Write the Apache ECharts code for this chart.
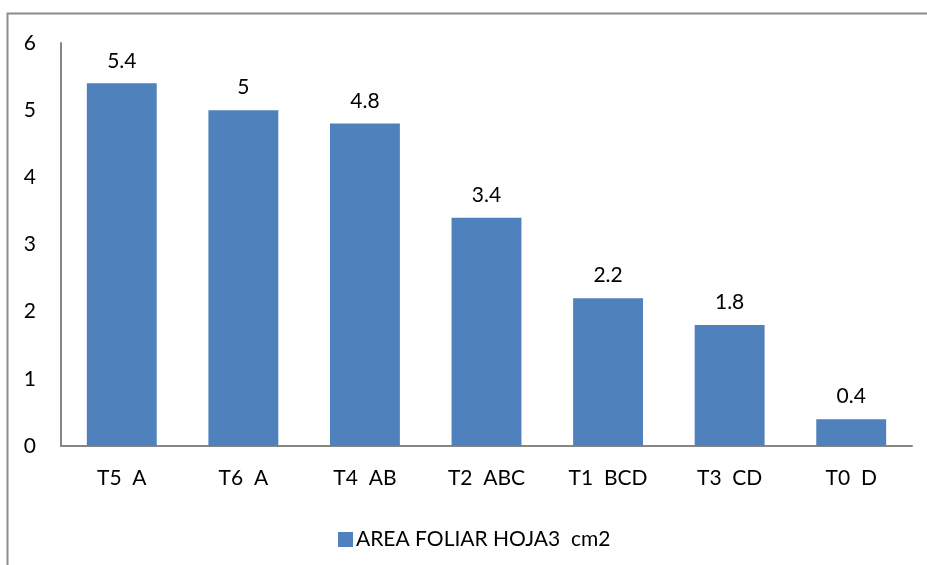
<!DOCTYPE html>
<html>
<head>
<meta charset="utf-8">
<script src="https://cdn.jsdelivr.net/npm/echarts@6/dist/echarts.min.js"></script>
<style>
  html, body { margin: 0; padding: 0; background: #fff; }
  #chart { width: 927px; height: 565px; }
</style>
</head>
<body>
<div id="chart"></div>
<script>
// Treatments with their significance letters, and leaf area of leaf 3 (cm2)
const categories = ['T5  A', 'T6  A', 'T4  AB', 'T2  ABC', 'T1  BCD', 'T3  CD', 'T0  D'];
const areaValues = [5.4, 5, 4.8, 3.4, 2.2, 1.8, 0.4];
const seriesName = 'AREA FOLIAR HOJA3  cm2';
const yTicks = [0, 1, 2, 3, 4, 5, 6];

const FONT = 'Lato, "Open Sans", sans-serif';
const FS = 21;
const chart = echarts.init(document.getElementById('chart'), null, { renderer: 'canvas' });

chart.setOption({
  animation: false,
  backgroundColor: '#ffffff',
  graphic: [{
    type: 'rect',
    shape: { x: 7.5, y: 13.5, width: 940, height: 600 },
    style: { fill: 'none', stroke: '#8c8c8c', lineWidth: 2 },
    silent: true
  }],
  grid: { left: 61, right: 15, top: 43, bottom: 119, containLabel: false },
  legend: {
    data: [seriesName],
    left: 333,
    top: 524,
    itemWidth: 15,
    itemHeight: 15,
    itemGap: 6,
    icon: 'rect',
    textStyle: { fontFamily: FONT, fontSize: FS, color: '#000', padding: [0, 0, 0, -2] }
  },
  xAxis: {
    type: 'category',
    data: categories,
    axisLine: { lineStyle: { color: '#868686', width: 2 } },
    axisTick: { show: false },
    axisLabel: { fontFamily: FONT, fontSize: FS, color: '#000', margin: 22 }
  },
  yAxis: {
    type: 'value',
    min: yTicks[0],
    max: yTicks[yTicks.length - 1],
    interval: 1,
    axisLine: { show: true, lineStyle: { color: '#868686', width: 2 } },
    axisTick: { show: false },
    splitLine: { show: false },
    axisLabel: { fontFamily: FONT, fontSize: FS, color: '#000', margin: 25 }
  },
  series: [{
    name: seriesName,
    type: 'bar',
    data: areaValues,
    barWidth: '57.5%',
    itemStyle: { color: '#4F81BD' },
    label: {
      show: true,
      position: 'top',
      distance: 12,
      fontFamily: FONT,
      fontSize: FS,
      color: '#000'
    }
  }]
});
</script>
</body>
</html>
